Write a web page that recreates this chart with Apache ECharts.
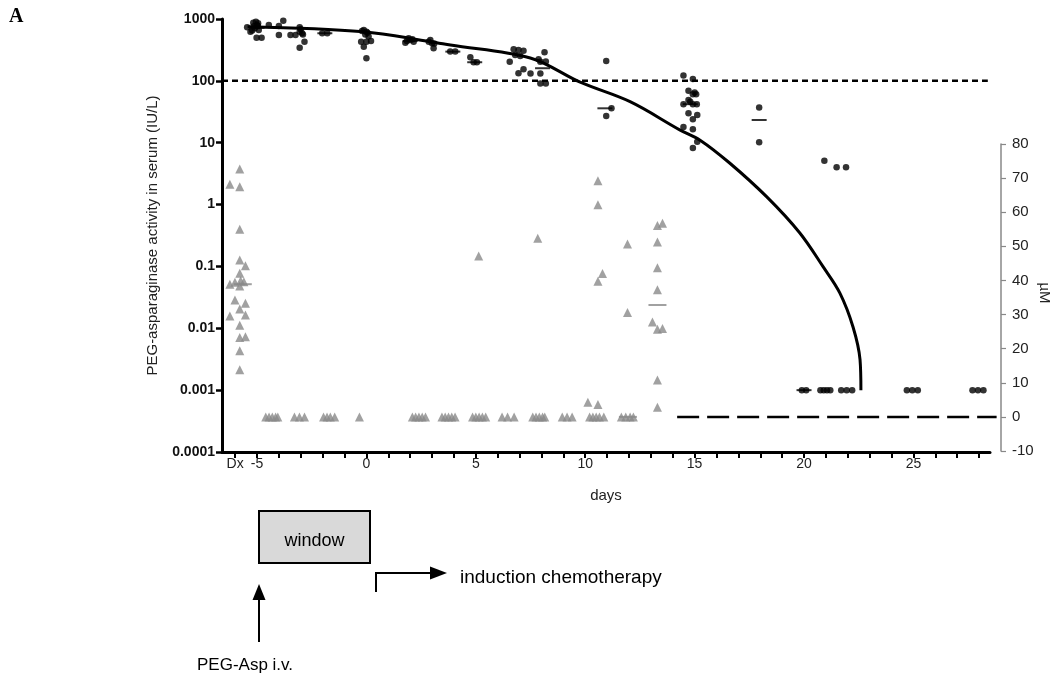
<!DOCTYPE html>
<html><head><meta charset="utf-8">
<script src="https://cdn.jsdelivr.net/npm/echarts@6/dist/echarts.min.js"></script>
<style>html,body{margin:0;padding:0;background:#fff}#c{width:1050px;height:679px}</style>
</head><body><div id="c"></div>
<script>
// ---- data (days, IU/L) ----
const activityPoints = [
  [-5.45,735],[-5.3,624],[-5.22,650],[-5.17,871],[-5.1,708],[-5.05,904],[-5.0,800],[-4.96,771],[-4.92,664],[-5.15,760],[-4.95,850],[-5.02,499],[-4.79,499],
  [-4.46,800],[-4.0,771],[-4.0,552],[-3.8,939],[-3.47,552],[-3.24,552],[-3.05,735],[-3.05,624],[-2.94,588],[-3.05,344],[-2.83,430],[-3.0,680],[-2.9,560],
  [-2.02,588],[-1.79,588],
  [-0.24,430],[0,430],[0.21,440],[-0.12,664],[0,620],[-0.05,560],[0.1,520],[-0.12,357],[0,232],[0.05,600],[-0.2,640],
  [1.78,414],[1.93,488],[2.16,430],[2.0,458],[2.1,470],[1.85,440],
  [2.92,458],[3.0,405],[3.07,336],[2.85,430],[3.1,400],
  [3.83,297],[4.06,297],
  [4.75,240],[4.9,200],[5.05,200],
  [6.73,324],[6.95,316],[7.18,308],[6.8,262],[7.03,252],[6.55,204],[7.18,154],[6.95,133],[7.5,131],
  [7.95,131],[7.87,223],[8.14,290],[8.2,206],[7.95,204],[7.95,91],[8.2,91],
  [10.96,209],[11.2,36],[10.96,27],
  [14.49,122],[14.92,107],[14.72,69],[14.92,61],[15.07,61],[14.72,49],[14.49,42],[14.92,42],[15.1,42],[14.72,30],[14.92,24],[15.12,28],[14.49,18],[14.92,16.5],[15.12,10.4],[14.92,8.2],[15.0,65],[14.8,46],
  [17.95,37],[17.95,10.2],
  [20.93,5.1],[21.49,4.0],[21.92,4.0],
  [19.9,0.001],[20.1,0.001],[20.75,0.001],[20.9,0.001],[21.05,0.001],[21.2,0.001],[21.7,0.001],[21.95,0.001],[22.2,0.001],
  [24.7,0.001],[24.95,0.001],[25.2,0.001],[27.7,0.001],[27.95,0.001],[28.2,0.001]
];
const activityMedians = [[-5.0,720],[-1.9,588],[2.0,440],[3.95,297],[4.95,200],[8.05,160],[10.9,36],[14.8,42],[17.95,23.3],[20.0,0.001]];
const decayCurve = [
  [-5.43,751],[-0.14,624],[2.92,430],[3.84,380],[7.49,234],[9.77,95],[12.05,46],[14.34,16],[15.25,11],[16.6,4.7],
  [18.3,1.33],[19.8,0.35],[20.87,0.099],[21.64,0.037],[22.24,0.0105],[22.56,0.0031],[22.6,0.001]
];
const thresholdLine = [[-6.6,100],[28.4,100]];
// ---- data (days, µM asparagine) ----
const asnPoints = [
  [-6.24,68.2],[-5.79,72.7],[-5.79,67.5],[-5.79,55.0],[-5.79,46.0],[-5.53,44.3],[-5.79,42.1],[-6.24,38.9],[-6.01,39.5],
  [-5.75,39.9],[-5.6,39.6],[-5.79,38.4],[-6.01,34.3],[-5.53,33.3],[-5.79,31.6],[-6.24,29.6],[-5.53,29.9],[-5.79,26.9],
  [-5.79,23.3],[-5.53,23.5],[-5.79,19.4],[-5.79,13.8],
  [-4.6,0],[-4.45,0],[-4.3,0],[-4.15,0],[-4.05,0],
  [-3.29,0],[-3.06,0],[-2.83,0],
  [-1.96,0],[-1.8,0],[-1.65,0],[-1.45,0],
  [-0.32,0],
  [2.1,0],[2.25,0],[2.4,0],[2.55,0],[2.7,0],
  [3.45,0],[3.6,0],[3.75,0],[3.9,0],[4.05,0],
  [4.85,0],[5.0,0],[5.15,0],[5.3,0],[5.45,0],[5.13,47.2],
  [6.2,0],[6.45,0],[6.75,0],
  [7.6,0],[7.75,0],[7.9,0],[8.05,0],[8.15,0],[7.83,52.4],
  [8.95,0],[9.17,0],[9.4,0],
  [10.2,0],[10.35,0],[10.5,0],[10.65,0],[10.85,0],
  [10.58,69.2],[10.58,62.2],[10.79,42.0],[10.58,39.8],[10.12,4.3],[10.58,3.6],
  [11.65,0],[11.85,0],[12.05,0],[12.2,0],[11.93,50.7],[11.93,30.6],
  [13.3,56.1],[13.53,56.8],[13.3,51.3],[13.3,43.7],[13.3,37.3],[13.07,27.8],[13.3,25.7],[13.53,25.9],[13.3,10.8],[13.3,2.8]
];
const asnMedians = [[-5.65,38.9],[11.95,0],[13.3,32.8]];
const zeroLine = [[14.2,0],[28.8,0]];
// ---- tick labels ----
const xTickValues = [];
for (let d = -6; d <= 28; d++) xTickValues.push(d);
const xLabelValues = [-6,-5,0,5,10,15,20,25];
const xLabelText = {'-6':'Dx'};
const logTickLabels = {'-4':'0.0001','-3':'0.001','-2':'0.01','-1':'0.1','0':'1','1':'10','2':'100','3':'1000'};

const chart = echarts.init(document.getElementById('c'));
const FONT = 'Liberation Sans, Arial, sans-serif';
chart.setOption({
  animation:false,
  textStyle:{fontFamily:FONT},
  grid:[
    {left:222,right:60,top:19,bottom:227,outerBoundsMode:'none',containLabel:false},
    {left:222,right:49,top:144,bottom:228,outerBoundsMode:'none',containLabel:false}
  ],
  xAxis:[
    {gridIndex:0,type:'value',min:-6.6,max:28.5,
     axisLine:{onZero:false,lineStyle:{color:'#000',width:3}},
     axisTick:{customValues:xTickValues,length:6,lineStyle:{color:'#000',width:2}},
     axisLabel:{customValues:xLabelValues,fontSize:14,color:'#222',margin:5,
       formatter:v=>xLabelText[String(v)]||String(v)},
     splitLine:{show:false},
     name:'days',nameLocation:'middle',nameGap:36,nameTextStyle:{fontSize:15,color:'#222'}},
    {gridIndex:1,type:'value',min:-6.6,max:29.0,show:false,axisLine:{onZero:false}}
  ],
  yAxis:[
    {gridIndex:0,type:'log',logBase:10,min:0.0001,max:1000,
     axisLine:{show:true,onZero:false,lineStyle:{color:'#000',width:3}},
     axisTick:{show:true,inside:false,length:6,lineStyle:{color:'#000',width:2.5}},
     minorTick:{show:false},
     axisLabel:{fontSize:14,fontWeight:'bold',color:'#111',margin:7,
       formatter:v=>logTickLabels[String(Math.round(Math.log10(v)))]||''},
     splitLine:{show:false},
     name:'PEG-asparaginase activity in serum (IU/L)',nameLocation:'middle',nameGap:62,
     nameTextStyle:{fontSize:15,color:'#222'}},
    {gridIndex:1,type:'value',position:'right',min:-10,max:80,interval:10,
     axisLine:{show:true,onZero:false,lineStyle:{color:'#888',width:1.5}},
     axisTick:{show:true,inside:false,length:5,lineStyle:{color:'#888',width:1.2}},
     axisLabel:{fontSize:15,color:'#222',margin:11},
     splitLine:{show:false}}
  ],
  series:[
    {type:'line',xAxisIndex:0,yAxisIndex:0,data:thresholdLine,symbol:'none',silent:true,
     lineStyle:{color:'#000',width:2.5,type:[6,4]}},
    {type:'line',xAxisIndex:1,yAxisIndex:1,data:zeroLine,symbol:'none',silent:true,
     lineStyle:{color:'#000',width:2.5,type:[22,8]}},
    {type:'scatter',xAxisIndex:1,yAxisIndex:1,data:asnPoints,symbol:'triangle',symbolSize:9,
     itemStyle:{color:'#8a8a8a'}},
    {type:'scatter',xAxisIndex:1,yAxisIndex:1,data:asnMedians,symbol:'rect',symbolSize:[18,2],
     itemStyle:{color:'#8a8a8a'}},
    {type:'scatter',xAxisIndex:0,yAxisIndex:0,data:activityPoints,symbol:'circle',symbolSize:6.5,
     itemStyle:{color:'#000'}},
    {type:'scatter',xAxisIndex:0,yAxisIndex:0,data:activityMedians,symbol:'rect',symbolSize:[15,2],
     itemStyle:{color:'#000'}},
    {type:'line',xAxisIndex:0,yAxisIndex:0,data:decayCurve,symbol:'none',smooth:0.35,silent:true,
     lineStyle:{color:'#000',width:3}}
  ],
  graphic:[
    {type:'text',left:9,top:7,style:{text:'A',font:'bold 20px "Liberation Serif", serif',fill:'#000'}},
    {type:'text',x:1044,y:293,rotation:-Math.PI/2,style:{text:'µM',font:'15px '+FONT,fill:'#222',align:'center',verticalAlign:'middle'}},
    {type:'rect',shape:{x:259,y:511,width:111,height:52},style:{fill:'#d9d9d9',stroke:'#000',lineWidth:2}},
    {type:'text',x:314.5,y:541,style:{text:'window',font:'18px '+FONT,fill:'#000',align:'center',verticalAlign:'middle'}},
    {type:'line',shape:{x1:259,y1:642,x2:259,y2:598},style:{stroke:'#000',lineWidth:2}},
    {type:'polygon',shape:{points:[[252.5,600],[265.5,600],[259,584]]},style:{fill:'#000'}},
    {type:'text',x:197,y:665,style:{text:'PEG-Asp i.v.',font:'17px '+FONT,fill:'#000',verticalAlign:'middle'}},
    {type:'polyline',shape:{points:[[376,592],[376,573],[432,573]]},style:{stroke:'#000',lineWidth:2,fill:null}},
    {type:'polygon',shape:{points:[[430,566.5],[430,579.5],[447,573]]},style:{fill:'#000'}},
    {type:'text',x:460,y:578,style:{text:'induction chemotherapy',font:'19px '+FONT,fill:'#000',verticalAlign:'middle'}}
  ]
});
</script>
</body></html>
